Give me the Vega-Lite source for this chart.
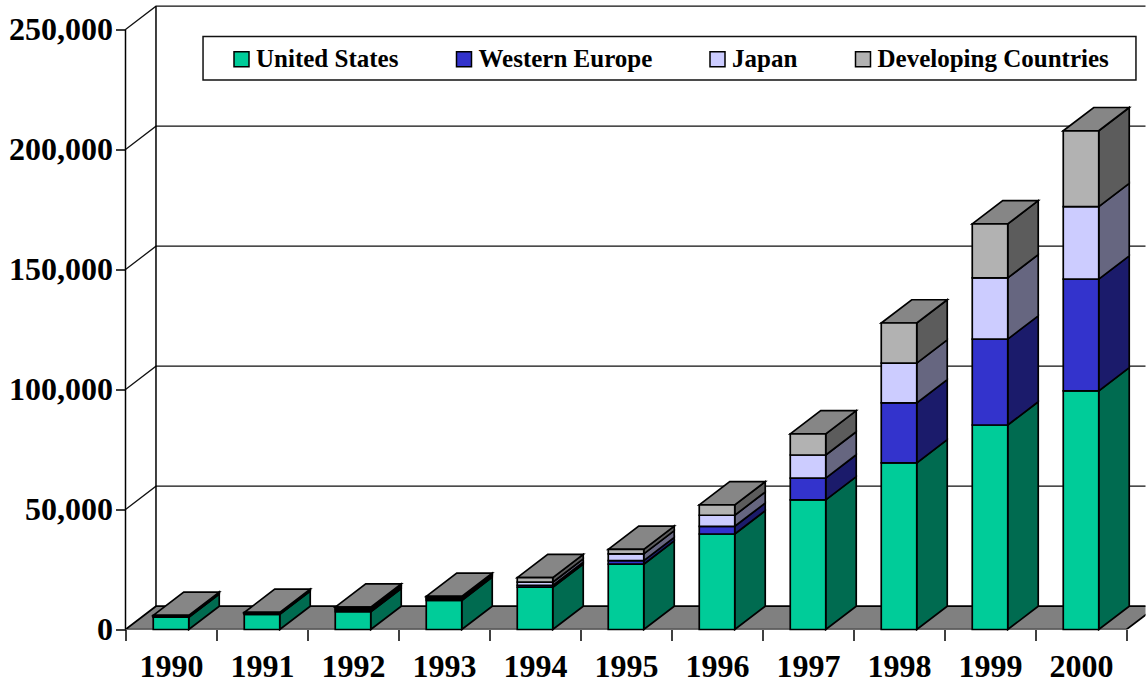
{
"$schema":"https://vega.github.io/schema/vega-lite/v6.json",
"width":1020,"height":624,
"autosize":{"type":"none"},
"padding":{"left":125.5,"top":5.5,"right":0.5,"bottom":57.5},
"background":"white",
"config":{"view":{"stroke":null},"font":"Liberation Serif"},
"datasets":{
"levels":[{"level":0},{"level":50000},{"level":100000},{"level":150000},{"level":200000},{"level":250000}],
"sales":[
{"year":1990,"region":"United States","value":5100},{"year":1990,"region":"Western Europe","value":300},{"year":1990,"region":"Japan","value":200},{"year":1990,"region":"Developing Countries","value":300},
{"year":1991,"region":"United States","value":6300},{"year":1991,"region":"Western Europe","value":300},{"year":1991,"region":"Japan","value":200},{"year":1991,"region":"Developing Countries","value":300},
{"year":1992,"region":"United States","value":7400},{"year":1992,"region":"Western Europe","value":700},{"year":1992,"region":"Japan","value":600},{"year":1992,"region":"Developing Countries","value":600},
{"year":1993,"region":"United States","value":12100},{"year":1993,"region":"Western Europe","value":600},{"year":1993,"region":"Japan","value":500},{"year":1993,"region":"Developing Countries","value":600},
{"year":1994,"region":"United States","value":17600},{"year":1994,"region":"Western Europe","value":800},{"year":1994,"region":"Japan","value":1300},{"year":1994,"region":"Developing Countries","value":1900},
{"year":1995,"region":"United States","value":27200},{"year":1995,"region":"Western Europe","value":1500},{"year":1995,"region":"Japan","value":2800},{"year":1995,"region":"Developing Countries","value":1900},
{"year":1996,"region":"United States","value":39800},{"year":1996,"region":"Western Europe","value":3200},{"year":1996,"region":"Japan","value":4600},{"year":1996,"region":"Developing Countries","value":4300},
{"year":1997,"region":"United States","value":54000},{"year":1997,"region":"Western Europe","value":9100},{"year":1997,"region":"Japan","value":9600},{"year":1997,"region":"Developing Countries","value":8800},
{"year":1998,"region":"United States","value":69400},{"year":1998,"region":"Western Europe","value":25000},{"year":1998,"region":"Japan","value":16600},{"year":1998,"region":"Developing Countries","value":16700},
{"year":1999,"region":"United States","value":85200},{"year":1999,"region":"Western Europe","value":35800},{"year":1999,"region":"Japan","value":25500},{"year":1999,"region":"Developing Countries","value":22500},
{"year":2000,"region":"United States","value":99400},{"year":2000,"region":"Western Europe","value":46600},{"year":2000,"region":"Japan","value":30200},{"year":2000,"region":"Developing Countries","value":31600}
]},
"encoding":{
"x":{"field":"px","type":"quantitative","scale":{"domain":[1989.5,2000.7088],"nice":false,"zero":false},"title":null,
"axis":{"values":[1989.5,1990.5,1991.5,1992.5,1993.5,1994.5,1995.5,1996.5,1997.5,1998.5,1999.5,2000.5],"labelExpr":"datum.value<2000 ? format(datum.value+0.5,'d') : ''","labelOffset":45.5,"labelFont":"Liberation Serif","labelFontSize":32,"labelFontWeight":"bold","labelColor":"black","labelPadding":11,"labelFlush":false,"labelOverlap":false,"labelBound":false,"tickSize":11,"tickWidth":1.5,"tickColor":"black","domain":false,"grid":false}},
"y":{"field":"py","type":"quantitative","scale":{"domain":[0,260000],"nice":false},"title":null,
"axis":{"values":[0,50000,100000,150000,200000,250000],"format":",d","labelFont":"Liberation Serif","labelFontSize":32,"labelFontWeight":"bold","labelColor":"black","labelPadding":3,"labelOverlap":false,"labelBound":false,"tickSize":10,"tickWidth":1.5,"tickColor":"black","domain":false,"grid":false}},
"y2":{"field":"py2"}
},
"layer":[
{"data":{"name":"levels"},
"transform":[{"filter":"datum.level==0"},
{"calculate":"[1989.5,1989.835,2000.5,2000.835]","as":"px"},
{"calculate":"[0,0,0,9700]","as":"py"},
{"calculate":"[0,9700,9700,9700]","as":"py2"},
{"flatten":["px","py","py2"]}],
"mark":{"type":"area","orient":"vertical","fill":"#808080","stroke":"black","strokeWidth":1.7,"clip":true}},
{"data":{"name":"levels"},
"transform":[{"filter":"datum.level>0"},
{"calculate":"[1989.5,1989.835,2000.7088]","as":"px"},
{"calculate":"[datum.level,datum.level+9700,datum.level+9700]","as":"py"},
{"calculate":"[datum.level,datum.level+9700,datum.level+9700]","as":"py2"},
{"flatten":["px","py","py2"]}],
"mark":{"type":"area","orient":"vertical","fill":null,"stroke":"#111111","strokeWidth":1.3},
"encoding":{"detail":{"field":"level"}}},
{"data":{"name":"levels"},
"transform":[{"filter":"datum.level==250000"},{"calculate":"1989.5","as":"px"},{"calculate":"0","as":"py"},{"calculate":"datum.level","as":"py2"}],
"mark":{"type":"rule","stroke":"black","strokeWidth":1.5}},
{"data":{"name":"levels"},
"transform":[{"filter":"datum.level==250000"},{"calculate":"1989.835","as":"px"},{"calculate":"9700","as":"py"},{"calculate":"datum.level+9700","as":"py2"}],
"mark":{"type":"rule","stroke":"black","strokeWidth":1.5}},
{"data":{"name":"levels"},
"transform":[{"filter":"datum.level==250000"},{"calculate":"1990.352","as":"px"},{"calculate":"2000.604","as":"px2"},{"calculate":"247100","as":"py"},{"calculate":"229000","as":"py2"}],
"mark":{"type":"rect","fill":"white","stroke":"#111111","strokeWidth":1.5},
"encoding":{"x2":{"field":"px2"}}},
{"data":{"name":"sales"},
"transform":[{"stack":"value","groupby":["year"],"as":["y0","y1"]},
{"calculate":"[datum.year+0.195,datum.year+0.53]","as":"px"},
{"calculate":"[datum.y1,datum.y1+9700]","as":"py"},
{"calculate":"[datum.y0,datum.y0+9700]","as":"py2"},
{"flatten":["px","py","py2"]}],
"mark":{"type":"area","orient":"vertical","stroke":"black","strokeWidth":1.7,"opacity":1},
"encoding":{"color":{"field":"region","type":"nominal","legend":null,"scale":{"domain":["Developing Countries","Japan","Western Europe","United States"],"range":["#5C5C5C","#666680","#1B1B6B","#006B50"]}},"detail":{"field":"year"}}},
{"data":{"name":"sales"},
"transform":[{"stack":"value","groupby":["year"],"as":["y0","y1"]},{"filter":"datum.region=='Developing Countries'"},
{"calculate":"[datum.year-0.195,datum.year-0.195+0.335,datum.year+0.195,datum.year+0.53]","as":"px"},
{"calculate":"[datum.y1,datum.y1+9700,datum.y1+9700,datum.y1+9700]","as":"py"},
{"calculate":"[datum.y1,datum.y1,datum.y1,datum.y1+9700]","as":"py2"},
{"flatten":["px","py","py2"]}],
"mark":{"type":"area","orient":"vertical","fill":"#868686","stroke":"black","strokeWidth":1.7},
"encoding":{"detail":{"field":"year"}}},
{"data":{"name":"sales"},
"transform":[{"stack":"value","groupby":["year"],"as":["y0","y1"]},
{"calculate":"datum.year-0.195","as":"px"},{"calculate":"datum.year+0.195","as":"px2"},
{"calculate":"datum.y1","as":"py"},{"calculate":"datum.y0","as":"py2"}],
"mark":{"type":"rect","stroke":"black","strokeWidth":1.7},
"encoding":{"x2":{"field":"px2"},
"fill":{"field":"region","type":"nominal","scale":{"domain":["United States","Western Europe","Japan","Developing Countries"],"range":["#00CC99","#3333CC","#CCCCFF","#B2B2B2"]},
"legend":{"title":null,"orient":"none","legendX":103.5,"legendY":41,"direction":"horizontal","columns":4,"columnPadding":52.5,"padding":0,"symbolType":"square","symbolSize":225,"symbolStrokeColor":"black","symbolStrokeWidth":1.5,"labelFont":"Liberation Serif","labelFontSize":25,"labelFontWeight":"bold","labelColor":"black","labelOffset":2,"labelLimit":400,"offset":0}}}}
]}
